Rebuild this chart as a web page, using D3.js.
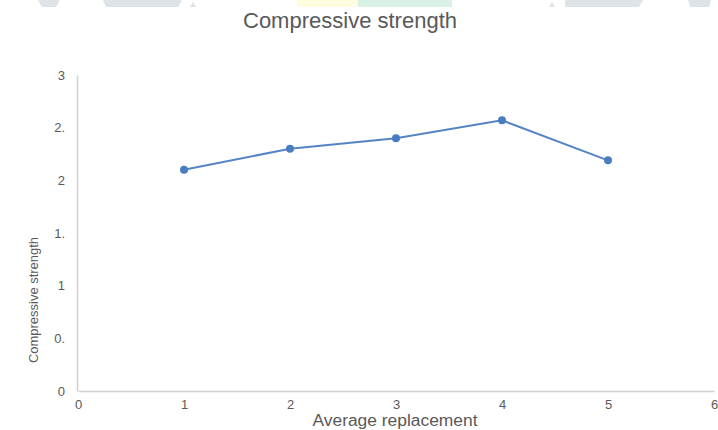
<!DOCTYPE html>
<html>
<head>
<meta charset="utf-8">
<script src="https://cdn.jsdelivr.net/npm/d3@7"></script>
<style>
  body { margin: 0; background: #fff; }
  svg { display: block; font-family: "Liberation Sans", Arial, sans-serif; }
</style>
</head>
<body>
<div id="chart"></div>
<script>
// data
const replacement = [1, 2, 3, 4, 5];
const strength = [2.10, 2.30, 2.40, 2.57, 2.19];
const yTicks = [0, 0.5, 1, 1.5, 2, 2.5, 3];
const yTickLabels = ["0", "0.", "1", "1.", "2", "2.", "3"];
const xTicks = [0, 1, 2, 3, 4, 5, 6];

// faint banner shapes along the top edge
const banner = [
    { pts: [[38, 0], [60, 0], [56, 7], [42, 7]], fill: "#dde3e6" },
    { pts: [[103, 0], [182, 0], [178, 7], [106, 7]], fill: "#dde3e6" },
    { pts: [[190, 7], [193, 2], [196, 7]], fill: "#dde3e6" },
    { pts: [[297, 0], [358, 0], [358, 7], [297, 7]], fill: "#fffde0" },
    { pts: [[358, 0], [452, 0], [452, 7], [358, 7]], fill: "#d9f0e4" },
    { pts: [[549, 7], [552, 2], [555, 7]], fill: "#dde3e6" },
    { pts: [[565, 0], [643, 0], [639, 7], [565, 7]], fill: "#dde3e6" },
    { pts: [[688, 0], [711, 0], [709, 7], [690, 7]], fill: "#dde3e6" }
];

const width = 718, height = 430;
const margin = { left: 78, right: 4, top: 75, bottom: 39 };

const svg = d3.select("#chart").append("svg")
    .attr("width", width)
    .attr("height", height);

svg.append("g").selectAll("polygon")
    .data(banner)
    .enter().append("polygon")
    .attr("points", d => d.pts.map(p => p.join(",")).join(" "))
    .attr("fill", d => d.fill);

const x = d3.scaleLinear().domain([0, 6]).range([margin.left, width - margin.right]);
const y = d3.scaleLinear().domain([0, 3]).range([height - margin.bottom, margin.top]);

// title
svg.append("text")
    .attr("x", 350).attr("y", 28)
    .attr("text-anchor", "middle")
    .attr("font-size", 22)
    .attr("fill", "#595959")
    .text("Compressive strength");

// axes
const xAxis = d3.axisBottom(x).tickValues(xTicks).tickSize(0).tickPadding(9)
    .tickFormat(d3.format("d"));
const yAxis = d3.axisLeft(y).tickValues(yTicks).tickSize(0).tickPadding(12)
    .tickFormat((d, i) => yTickLabels[i]);

const gx = svg.append("g")
    .attr("transform", `translate(0,${height - margin.bottom})`)
    .call(xAxis);
const gy = svg.append("g")
    .attr("transform", `translate(${margin.left - 1},0)`)
    .call(yAxis);

[gx, gy].forEach(g => {
    g.select(".domain").attr("stroke", "#d0d0d0").attr("stroke-width", 1.5);
    g.selectAll("text").attr("fill", "#595959").attr("font-size", 13)
        .attr("font-family", "'Liberation Sans', Arial, sans-serif");
});

// axis titles
svg.append("text")
    .attr("x", 395).attr("y", 426)
    .attr("text-anchor", "middle")
    .attr("font-size", 16)
    .attr("fill", "#595959")
    .attr("textLength", 165)
    .attr("lengthAdjust", "spacingAndGlyphs")
    .text("Average replacement");

svg.append("text")
    .attr("transform", "translate(38,300) rotate(-90)")
    .attr("text-anchor", "middle")
    .attr("font-size", 13)
    .attr("fill", "#595959")
    .attr("textLength", 126)
    .attr("lengthAdjust", "spacingAndGlyphs")
    .text("Compressive strength");

// series
const pts = replacement.map((r, i) => [r, strength[i]]);
const line = d3.line().x(d => x(d[0])).y(d => y(d[1]));

svg.append("path")
    .datum(pts)
    .attr("d", line)
    .attr("fill", "none")
    .attr("stroke", "#5584c4")
    .attr("stroke-width", 2);

svg.append("g").selectAll("circle")
    .data(pts)
    .enter().append("circle")
    .attr("cx", d => x(d[0]))
    .attr("cy", d => y(d[1]))
    .attr("r", 4)
    .attr("fill", "#4a7cc0");
</script>
</body>
</html>
